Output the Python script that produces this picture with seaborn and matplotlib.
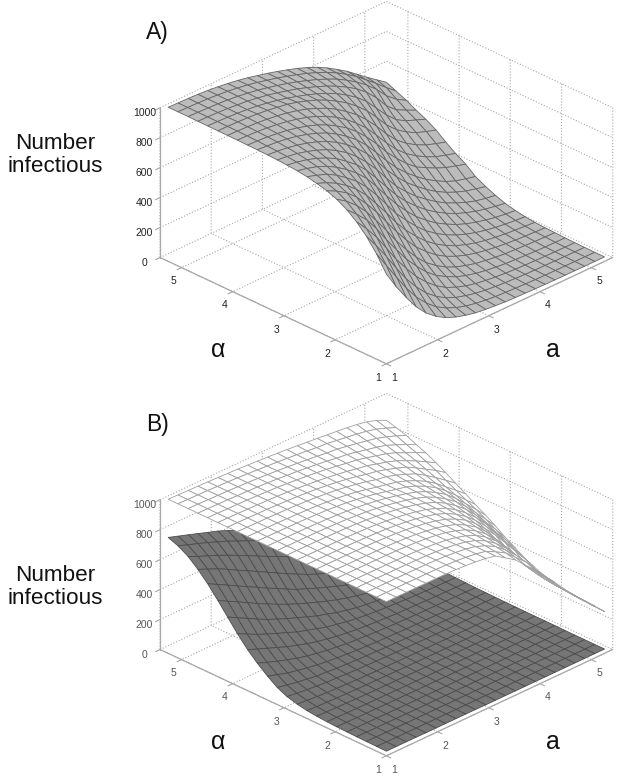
import matplotlib
matplotlib.use("Agg")
import matplotlib.pyplot as plt
import numpy as np
import seaborn as sns

a_values = [1.09, 1.28, 1.48, 1.67, 1.86, 2.06, 2.25, 2.45, 2.64, 2.83, 3.03, 3.22, 3.41, 3.61, 3.80, 4.00, 4.19, 4.38, 4.58, 4.77, 4.96, 5.16, 5.35]
alpha_values = [1.09, 1.28, 1.48, 1.67, 1.86, 2.06, 2.25, 2.45, 2.64, 2.83, 3.03, 3.22, 3.41, 3.61, 3.80, 4.00, 4.19, 4.38, 4.58, 4.77, 4.96, 5.16, 5.35]
axis_ticks = [1, 2, 3, 4, 5]
z_ticks = [0, 200, 400, 600, 800, 1000]

# one row per alpha, one column per a
infectious_a = [
    [570, 456, 350, 259, 187, 132, 93, 65, 46, 32, 23, 17, 12, 9, 7, 5, 4, 3, 2, 2, 1, 1, 1],
    [673, 566, 455, 352, 263, 190, 135, 95, 67, 47, 33, 24, 17, 13, 10, 7, 5, 4, 3, 3, 2, 2, 1],
    [760, 667, 562, 455, 354, 267, 196, 140, 100, 72, 52, 37, 27, 20, 15, 11, 8, 6, 5, 4, 3, 2, 2],
    [825, 750, 660, 557, 452, 358, 275, 205, 150, 108, 78, 56, 41, 30, 22, 16, 12, 9, 7, 5, 4, 3, 3],
    [875, 815, 745, 655, 552, 452, 360, 280, 212, 158, 118, 86, 64, 47, 35, 26, 19, 15, 11, 8, 6, 5, 4],
    [914, 870, 810, 737, 648, 550, 450, 359, 279, 212, 160, 119, 89, 67, 50, 38, 29, 22, 18, 14, 11, 9, 7],
    [940, 907, 863, 804, 729, 641, 546, 448, 362, 285, 222, 170, 130, 98, 75, 57, 44, 34, 26, 20, 16, 12, 9],
    [957, 931, 895, 850, 795, 722, 635, 542, 447, 365, 292, 230, 180, 138, 106, 81, 62, 48, 37, 29, 23, 18, 13],
    [971, 950, 925, 888, 840, 785, 716, 630, 538, 446, 368, 298, 238, 188, 148, 115, 90, 70, 54, 42, 33, 26, 20],
    [980, 965, 945, 917, 880, 832, 778, 710, 625, 535, 445, 370, 302, 245, 197, 157, 124, 98, 77, 61, 48, 38, 31],
    [986, 975, 959, 938, 910, 873, 825, 770, 703, 620, 530, 444, 372, 308, 253, 206, 167, 134, 108, 87, 71, 58, 47],
    [990, 982, 970, 953, 931, 903, 866, 820, 763, 696, 615, 526, 443, 373, 312, 260, 214, 175, 143, 116, 95, 80, 70],
    [993, 987, 978, 965, 948, 925, 896, 858, 813, 757, 690, 610, 522, 442, 374, 316, 265, 221, 183, 154, 131, 113, 98],
    [995, 990, 984, 974, 961, 942, 919, 889, 851, 806, 750, 684, 605, 518, 441, 375, 319, 270, 228, 193, 166, 148, 133],
    [996, 993, 988, 980, 970, 955, 936, 912, 882, 844, 799, 744, 678, 600, 515, 440, 376, 322, 285, 252, 225, 203, 185],
    [997, 995, 991, 985, 977, 965, 950, 931, 906, 875, 838, 792, 738, 673, 596, 512, 438, 380, 332, 295, 265, 243, 225],
    [998, 996, 993, 989, 982, 973, 961, 945, 925, 899, 868, 830, 785, 732, 668, 592, 510, 440, 385, 345, 313, 290, 270],
    [998, 997, 995, 992, 987, 979, 969, 957, 940, 918, 892, 861, 824, 780, 728, 665, 590, 510, 445, 400, 365, 340, 320],
    [999, 997, 994, 990, 984, 976, 965, 951, 935, 916, 895, 871, 843, 810, 770, 722, 665, 590, 512, 450, 412, 385, 360],
    [999, 998, 995, 991, 985, 978, 968, 955, 940, 923, 904, 882, 858, 830, 798, 760, 718, 665, 595, 512, 455, 420, 390],
    [1000, 998, 995, 992, 987, 980, 970, 958, 944, 928, 910, 890, 868, 843, 815, 783, 745, 702, 650, 590, 518, 462, 425],
    [1000, 998, 996, 993, 988, 981, 972, 961, 947, 931, 914, 895, 875, 852, 826, 796, 762, 722, 675, 622, 568, 508, 455],
    [1000, 998, 996, 993, 988, 981, 972, 961, 948, 932, 915, 897, 877, 855, 830, 800, 765, 725, 680, 630, 580, 530, 483],
]

infectious_b_upper = [
    [1000, 1000, 1000, 1000, 999, 999, 998, 996, 992, 986, 977, 963, 920, 874, 810, 744, 670, 600, 520, 450, 384, 317, 250],
    [1000, 1000, 1000, 1000, 999, 999, 998, 996, 992, 986, 977, 963, 930, 890, 830, 768, 685, 610, 527, 455, 387, 320, 252],
    [1000, 1000, 1000, 1000, 999, 999, 998, 996, 992, 986, 977, 963, 938, 900, 848, 782, 700, 622, 540, 462, 393, 325, 256],
    [1000, 1000, 1000, 999, 999, 998, 997, 995, 991, 985, 976, 963, 942, 908, 861, 798, 722, 640, 548, 468, 397, 330, 260],
    [1000, 1000, 1000, 999, 999, 998, 997, 994, 990, 984, 975, 962, 943, 914, 872, 815, 745, 660, 565, 478, 405, 338, 268],
    [1000, 1000, 1000, 999, 999, 998, 997, 994, 990, 984, 975, 963, 945, 919, 882, 830, 765, 680, 585, 495, 420, 348, 280],
    [1000, 1000, 999, 999, 998, 997, 996, 993, 989, 983, 974, 963, 947, 924, 890, 845, 785, 705, 615, 525, 445, 372, 300],
    [1000, 1000, 999, 999, 998, 997, 995, 992, 988, 982, 973, 962, 948, 927, 898, 858, 805, 740, 665, 585, 500, 412, 325],
    [1000, 1000, 999, 998, 998, 996, 994, 991, 987, 981, 972, 962, 948, 930, 904, 868, 822, 765, 695, 618, 530, 442, 355],
    [1000, 999, 999, 998, 997, 996, 994, 991, 986, 980, 971, 961, 948, 931, 908, 877, 836, 785, 722, 650, 565, 480, 395],
    [1000, 999, 999, 998, 997, 995, 993, 990, 985, 979, 970, 960, 947, 931, 911, 884, 848, 802, 745, 678, 600, 518, 435],
    [1000, 999, 998, 998, 997, 995, 993, 989, 984, 978, 969, 959, 946, 931, 913, 889, 857, 816, 765, 703, 632, 555, 480],
    [1000, 999, 998, 997, 996, 994, 992, 988, 983, 977, 968, 958, 945, 930, 913, 892, 864, 828, 782, 725, 660, 590, 520],
    [1000, 999, 998, 997, 996, 994, 991, 988, 982, 976, 966, 956, 942, 926, 910, 894, 869, 837, 796, 745, 686, 622, 560],
    [1000, 999, 998, 997, 995, 993, 990, 987, 981, 975, 966, 955, 941, 925, 911, 895, 873, 844, 808, 763, 710, 655, 600],
    [1000, 999, 998, 997, 995, 993, 990, 986, 981, 974, 966, 956, 944, 929, 912, 900, 880, 855, 825, 785, 740, 690, 640],
    [1000, 999, 998, 996, 995, 992, 989, 985, 980, 974, 966, 957, 946, 933, 917, 905, 886, 865, 840, 805, 765, 725, 680],
    [1000, 999, 998, 996, 994, 992, 989, 985, 979, 973, 966, 958, 948, 937, 923, 912, 893, 875, 852, 822, 790, 752, 715],
    [1000, 999, 997, 996, 994, 991, 988, 984, 979, 973, 966, 959, 950, 940, 928, 918, 902, 885, 867, 843, 812, 782, 750],
    [1000, 999, 997, 996, 993, 991, 988, 984, 979, 973, 967, 960, 952, 943, 932, 924, 910, 895, 880, 862, 835, 805, 775],
    [1000, 999, 997, 995, 993, 990, 987, 983, 978, 973, 967, 960, 953, 945, 936, 930, 918, 906, 892, 878, 858, 832, 805],
    [1000, 998, 997, 995, 992, 990, 986, 982, 977, 972, 967, 961, 955, 948, 940, 935, 925, 915, 905, 893, 877, 852, 825],
    [1000, 998, 996, 994, 992, 989, 986, 983, 979, 975, 970, 965, 959, 953, 946, 939, 932, 925, 917, 908, 895, 873, 843],
]

infectious_b_lower = [
    [2, 2, 2, 2, 1, 1, 1, 1, 1, 1, 0, 0, 0, 0, 0, 0, 0, 0, 0, 0, 0, 0, 0],
    [3, 3, 2, 2, 2, 2, 1, 1, 1, 1, 1, 1, 0, 0, 0, 0, 0, 0, 0, 0, 0, 0, 0],
    [4, 4, 3, 3, 2, 2, 2, 2, 1, 1, 1, 1, 1, 1, 1, 0, 0, 0, 0, 0, 0, 0, 0],
    [5, 5, 4, 4, 3, 3, 2, 2, 2, 2, 1, 1, 1, 1, 1, 1, 1, 1, 0, 0, 0, 0, 0],
    [7, 6, 6, 5, 4, 4, 3, 3, 3, 2, 2, 2, 2, 1, 1, 1, 1, 1, 1, 1, 1, 0, 0],
    [9, 8, 7, 6, 6, 5, 4, 4, 3, 3, 3, 2, 2, 2, 2, 1, 1, 1, 1, 1, 1, 1, 1],
    [12, 11, 9, 8, 7, 6, 6, 5, 4, 4, 3, 3, 3, 2, 2, 2, 2, 1, 1, 1, 1, 1, 1],
    [17, 15, 12, 11, 9, 8, 7, 6, 6, 5, 4, 4, 4, 3, 3, 3, 2, 2, 2, 2, 1, 1, 1],
    [24, 20, 17, 15, 13, 11, 10, 9, 8, 7, 6, 5, 5, 4, 4, 3, 3, 3, 2, 2, 2, 2, 1],
    [36, 31, 25, 21, 18, 15, 13, 11, 10, 9, 8, 7, 6, 5, 5, 4, 4, 3, 3, 3, 2, 2, 2],
    [55, 46, 38, 32, 26, 23, 19, 16, 14, 12, 10, 9, 8, 7, 6, 5, 5, 4, 4, 4, 3, 3, 2],
    [85, 71, 58, 48, 38, 33, 27, 23, 20, 17, 15, 12, 11, 9, 8, 7, 7, 6, 5, 4, 4, 4, 3],
    [130, 110, 89, 75, 61, 50, 41, 34, 29, 24, 20, 17, 15, 13, 11, 10, 9, 8, 7, 6, 5, 5, 4],
    [185, 160, 135, 114, 94, 77, 64, 52, 44, 35, 30, 25, 21, 18, 15, 13, 11, 10, 9, 8, 7, 6, 5],
    [245, 218, 191, 166, 141, 118, 98, 80, 67, 54, 45, 37, 31, 26, 22, 18, 16, 14, 12, 10, 9, 8, 7],
    [320, 286, 252, 224, 197, 171, 144, 123, 103, 84, 70, 57, 47, 38, 32, 27, 23, 19, 16, 14, 12, 10, 9],
    [400, 364, 328, 293, 260, 230, 203, 177, 152, 128, 108, 87, 73, 58, 49, 41, 34, 28, 23, 20, 17, 15, 12],
    [480, 444, 408, 372, 336, 301, 268, 236, 209, 182, 157, 133, 112, 92, 76, 62, 51, 42, 35, 29, 24, 21, 18],
    [560, 524, 488, 452, 416, 380, 344, 309, 275, 242, 215, 188, 163, 138, 116, 96, 79, 65, 53, 45, 36, 31, 25],
    [625, 596, 566, 532, 496, 460, 424, 388, 352, 316, 282, 249, 221, 194, 168, 144, 121, 101, 82, 68, 55, 46, 38],
    [680, 650, 622, 595, 565, 532, 500, 465, 432, 400, 368, 335, 305, 275, 247, 220, 194, 170, 148, 127, 108, 90, 75],
    [720, 695, 672, 648, 622, 595, 565, 535, 505, 478, 450, 422, 395, 368, 340, 312, 285, 258, 232, 208, 185, 160, 140],
    [745, 723, 700, 678, 655, 632, 605, 575, 548, 522, 497, 470, 445, 420, 393, 365, 338, 310, 285, 260, 235, 210, 185],
]

sns.set_theme(style="white")
plt.rcParams["font.family"] = ["Liberation Sans", "DejaVu Sans"]

W, H = 624, 779
SIDE = 620
fig = plt.figure(figsize=(W / 100, H / 100), dpi=100)
X, Y = np.meshgrid(a_values, alpha_values)


def make_axes(cx, cy, label_color):
    # cx, cy = centre of the box in pixels, from top left
    ax = fig.add_axes([(cx - SIDE / 2) / W, 1 - (cy + SIDE / 2) / H, SIDE / W, SIDE / H],
                      projection="3d", computed_zorder=False)
    ax.patch.set_alpha(0)
    ax.set_proj_type("ortho")
    ax.view_init(elev=28, azim=-135)
    ax.set_box_aspect((1, 1, 0.53), zoom=0.757)
    ax.set_xlim(1, 5.42)
    ax.set_ylim(1, 5.42)
    ax.set_zlim(0, 1000)
    ax.set_xticks(axis_ticks)
    ax.set_yticks(axis_ticks)
    ax.set_zticks(z_ticks)
    for axis in (ax.xaxis, ax.yaxis, ax.zaxis):
        axis.set_pane_color((1, 1, 1, 0))
        axis.pane.set_edgecolor("#a8a8a8")
        axis.pane.set_linestyle(":")
        axis.pane.set_linewidth(0.8)
        axis.line.set_color("#a8a8a8")
        axis.line.set_linewidth(0.9)
        axis._axinfo["grid"].update(color="#a8a8a8", linestyle=":", linewidth=0.8)
        axis._axinfo["tick"].update(inward_factor=0.25, outward_factor=0.0, linewidth={True: 0.8, False: 0.5})
        axis.set_tick_params(labelsize=7.5, pad=0, colors=label_color)
        axis.set_tick_params(color="#a8a8a8")
    return ax


ax_a = make_axes(378, 191, "#222222")
ax_a.plot_surface(X, Y, np.array(infectious_a), rstride=1, cstride=1, color="#bcbcbc",
                  edgecolor="#666666", linewidth=0.6, shade=False)

ax_b = make_axes(378, 583, "#555555")
ax_b.plot_surface(X, Y, np.array(infectious_b_lower), rstride=1, cstride=1, color="#767676",
                  edgecolor="#4c4c4c", linewidth=0.6, shade=False, zorder=1)
ax_b.plot_surface(X, Y, np.array(infectious_b_upper), rstride=1, cstride=1, color="white",
                  edgecolor="#a0a0a0", linewidth=0.6, shade=False, zorder=2)

fig.text(146 / W, 1 - 33 / H, "A)", fontsize=16.5, ha="left", va="center", color="#111111")
fig.text(146 / W, 1 - 425 / H, "B)", fontsize=16.5, ha="left", va="center", color="#111111")
fig.text(55 / W, 1 - 155 / H, "Number\ninfectious", fontsize=16.2, ha="center", va="center", linespacing=1.12, color="#111111")
fig.text(55 / W, 1 - 587 / H, "Number\ninfectious", fontsize=16.2, ha="center", va="center", linespacing=1.12, color="#111111")
fig.text(218 / W, 1 - 350 / H, "α", fontsize=18, ha="center", va="center", color="#111111")
fig.text(553 / W, 1 - 350 / H, "a", fontsize=18, ha="center", va="center", color="#111111")
fig.text(218 / W, 1 - 742 / H, "α", fontsize=18, ha="center", va="center", color="#111111")
fig.text(553 / W, 1 - 742 / H, "a", fontsize=18, ha="center", va="center", color="#111111")

fig.savefig("out.png", dpi=100)
